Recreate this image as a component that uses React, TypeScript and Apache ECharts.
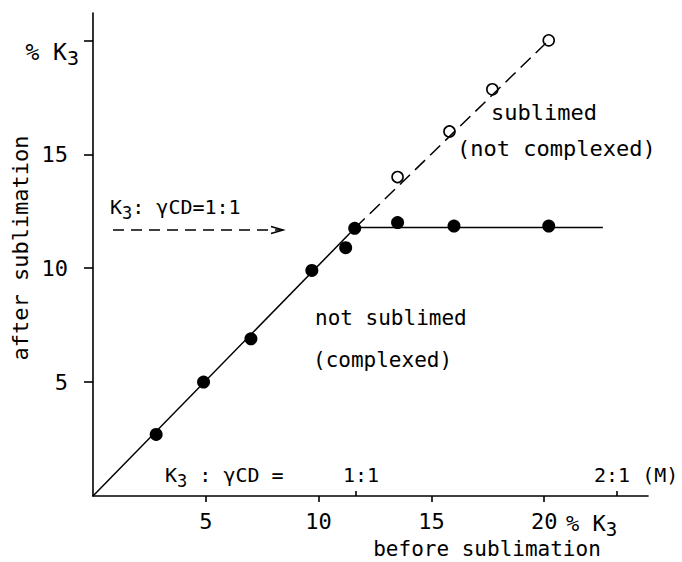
import React, { useEffect, useRef } from 'react';
import * as echarts from 'echarts';

// ---- data ----
const complexedX = [2.8, 4.9, 7.0, 9.7, 11.2, 11.6, 13.5, 16.0, 20.2];
const complexedY = [2.7, 5.0, 6.9, 9.9, 10.9, 11.75, 12.0, 11.85, 11.85];
const sublimedX = [13.5, 15.8, 17.7, 20.2];
const sublimedY = [14.0, 16.0, 17.85, 20.0];
const riseLine = [[0, 0], [11.6, 11.75]];
const plateauLine = [[11.6, 11.78], [22.6, 11.78]];
const sublimedLine = [[11.6, 11.75], [20.2, 20.0]];
const xTicks = [5, 10, 15, 20];
const yTicks = [5, 10, 15, 20];
const yTickLabels = [5, 10, 15];
const ratioTicks = [11.66, 23.2];

const FONT = '"DejaVu Sans Mono", "DejaVu Sans", monospace';
const BLACK = '#000';

function txt(x: number, y: number, text: string, size: number, extra: any = {}) {
  return {
    type: 'text',
    x,
    y,
    rotation: extra.rotation || 0,
    style: {
      text,
      fill: BLACK,
      fontSize: size,
      fontFamily: FONT,
      align: extra.align || 'left',
      verticalAlign: 'middle',
      rich: {
        k: { fontSize: size, fontFamily: FONT, fill: BLACK },
        s: { fontSize: Math.round(size * 0.86), fontFamily: FONT, fill: BLACK, padding: [11, 0, 0, 0] },
      },
    },
  };
}

export default function App() {
  const ref = useRef<HTMLDivElement>(null);
  useEffect(() => {
    const chart = echarts.init(ref.current!, null, { renderer: 'svg' });
    const axisLineStyle = { color: BLACK, width: 1.6 };
    const option: any = {
      animation: false,
      grid: { left: 93, right: 34, top: 13, bottom: 66 },
      xAxis: [
        {
          type: 'value',
          min: 0,
          max: 24.6,
          axisLine: { show: true, onZero: false, lineStyle: axisLineStyle },
          axisTick: { show: true, customValues: xTicks, length: 6, lineStyle: axisLineStyle },
          axisLabel: { customValues: [5, 10, 15, 20], margin: 14, color: BLACK, fontFamily: FONT, fontSize: 22 },
          splitLine: { show: false },
        },
        {
          type: 'value',
          min: 0,
          max: 24.6,
          position: 'bottom',
          axisLine: { show: false },
          axisTick: { show: true, inside: true, customValues: ratioTicks, length: 5, lineStyle: axisLineStyle },
          axisLabel: { show: false },
          splitLine: { show: false },
        },
      ],
      yAxis: {
        type: 'value',
        min: 0,
        max: 21.2,
        axisLine: { show: true, onZero: false, lineStyle: axisLineStyle },
        axisTick: { show: true, customValues: yTicks, length: 9, lineStyle: axisLineStyle },
        axisLabel: { customValues: yTickLabels, margin: 25, color: BLACK, fontFamily: FONT, fontSize: 22 },
        splitLine: { show: false },
      },
      graphic: [
        txt(79, 52, '{k|% K}{s|3}', 23, { align: 'right' }),
        txt(20, 248, 'after sublimation', 22, { align: 'center', rotation: Math.PI / 2 }),
        txt(110, 207, '{k|K}{s|3}{k|: γCD=1:1}', 20),
        {
          type: 'line',
          shape: { x1: 113, y1: 230, x2: 282, y2: 230 },
          style: { stroke: BLACK, lineWidth: 1.6, lineDash: [11, 7] },
        },
        {
          type: 'polyline',
          shape: { points: [[271, 226.5], [283, 230], [271, 233.5]] },
          style: { stroke: BLACK, lineWidth: 1.6, fill: 'none' },
        },
        txt(491, 112, 'sublimed', 22),
        txt(457, 148, '(not complexed)', 22),
        txt(315, 318, 'not sublimed', 21),
        txt(313, 360, '(complexed)', 21),
        txt(165, 475, '{k|K}{s|3}{k| : γCD =}', 20),
        txt(361, 475, '1:1', 20, { align: 'center' }),
        txt(594, 475, '2:1 (M)', 20),
        txt(566, 523, '{k|% K}{s|3}', 22),
        txt(487, 549, 'before sublimation', 21, { align: 'center' }),
      ],
      series: [
        {
          type: 'line',
          data: riseLine,
          symbol: 'none',
          lineStyle: { color: BLACK, width: 1.5 },
        },
        {
          type: 'line',
          data: plateauLine,
          symbol: 'none',
          lineStyle: { color: BLACK, width: 1.5 },
        },
        {
          type: 'line',
          data: sublimedLine,
          symbol: 'none',
          lineStyle: { color: BLACK, width: 1.5, type: [14, 7] },
        },
        {
          type: 'scatter',
          data: sublimedX.map((x, i) => [x, sublimedY[i]]),
          symbol: 'circle',
          symbolSize: 11,
          itemStyle: { color: '#fff', borderColor: BLACK, borderWidth: 1.6, opacity: 1 },
        },
        {
          type: 'scatter',
          data: complexedX.map((x, i) => [x, complexedY[i]]),
          symbol: 'circle',
          symbolSize: 13,
          itemStyle: { color: BLACK, opacity: 1 },
        },
      ],
    };
    chart.setOption(option);
    return () => chart.dispose();
  }, []);
  return <div ref={ref} style={{ position: 'absolute', left: 0, top: 0, width: 682, height: 562 }} />;
}
